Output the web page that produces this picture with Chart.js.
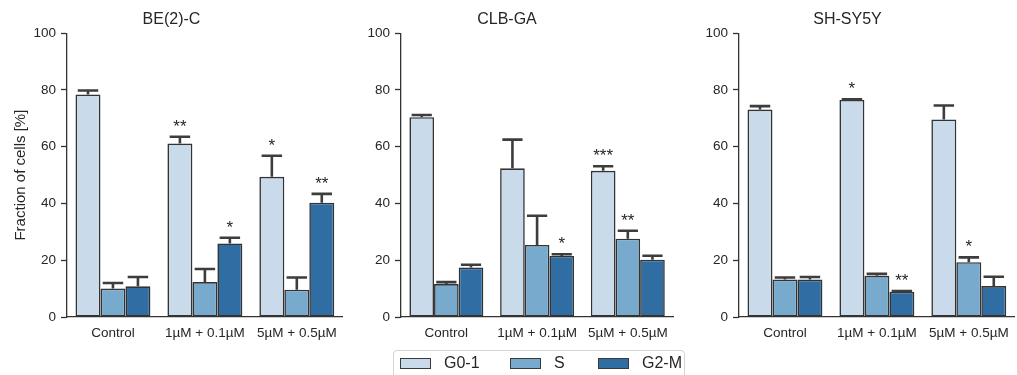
<!DOCTYPE html>
<html>
<head>
<meta charset="utf-8">
<script src="https://cdn.jsdelivr.net/npm/chart.js@4.4.1/dist/chart.umd.min.js"></script>
<style>
  body { margin: 0; background: #fff; font-family: "Liberation Sans", Arial, sans-serif; }
  #fig { position: relative; width: 1017px; height: 375px; overflow: hidden; }
  #fig canvas { position: absolute; top: 0; }
  #legend { position: absolute; left: 393px; top: 350px; width: 292px; height: 40px;
            border: 1px solid #d4d4d4; border-radius: 4px; box-sizing: border-box; color: #262626; font-size: 16px; }
  .item { position: absolute; top: 2px; height: 20px; line-height: 20px; }
  .swatch { position: absolute; top: 5px; width: 29px; height: 9px; border: 1px solid #3a3a3a; }
  .label { position: absolute; left: 44px; white-space: nowrap; }
</style>
</head>
<body>
<div id="fig">
  <canvas id="c1" width="345" height="375" style="left:0px"></canvas>
  <canvas id="c2" width="336" height="375" style="left:340px"></canvas>
  <canvas id="c3" width="337" height="375" style="left:680px"></canvas>
  <div id="legend"></div>
</div>
<script>
const categories = ["Control", "1µM + 0.1µM", "5µM + 0.5µM"];
const phases = ["G0-1", "S", "G2-M"];
const phaseColors = ["#c9dbea", "#77aacd", "#2f6da3"];
const yTicks = [0, 20, 40, 60, 80, 100];

// BE(2)-C
const be2cMean = [[78.4, 61.1, 49.4], [10.0, 12.3, 9.6], [10.8, 25.9, 40.3]];
const be2cErr  = [[1.4, 2.4, 7.4], [2.0, 4.6, 4.3], [3.3, 2.0, 3.1]];
const be2cSig  = [["", "**", "*"], ["", "", ""], ["", "*", "**"]];

// CLB-GA
const clbMean = [[70.4, 52.4, 51.5], [11.6, 25.4, 27.6], [17.4, 21.5, 20.2]];
const clbErr  = [[0.8, 10.1, 1.6], [0.7, 10.3, 2.8], [1.0, 0.6, 1.4]];
const clbSig  = [["", "", "***"], ["", "", "**"], ["", "*", ""]];

// SH-SY5Y
const shMean = [[73.1, 76.5, 69.6], [13.2, 14.5, 19.3], [13.2, 8.9, 10.9]];
const shErr  = [[1.2, 0.2, 4.9], [0.7, 0.7, 1.7], [0.9, 0.2, 3.3]];
const shSig  = [["", "*", ""], ["", "", "*"], ["", "**", ""]];

const ink = "#262626";
const axisInk = "#333333";
const fontFamily = '"Liberation Sans", Arial, sans-serif';

// error bars (upper only) + significance stars
const errorBars = {
    id: 'errorBars',
    afterDatasetsDraw(chart) {
        const ctx = chart.ctx;
        const y = chart.scales.y;
        chart.data.datasets.forEach((ds, i) => {
            const meta = chart.getDatasetMeta(i);
            meta.data.forEach((bar, j) => {
                const top = y.getPixelForValue(ds.data[j] + ds.errors[j]);
                const half = bar.width * 0.41;
                ctx.save();
                ctx.strokeStyle = "#3d3d3d";
                ctx.lineWidth = 2.6;
                ctx.beginPath();
                ctx.moveTo(bar.x, bar.y);
                ctx.lineTo(bar.x, top);
                ctx.moveTo(bar.x - half, top);
                ctx.lineTo(bar.x + half, top);
                ctx.stroke();
                if (ds.stars[j]) {
                    ctx.fillStyle = ink;
                    ctx.font = "17px " + fontFamily;
                    ctx.textAlign = "center";
                    ctx.textBaseline = "alphabetic";
                    ctx.fillText(ds.stars[j], bar.x, top - 5);
                }
                ctx.restore();
            });
        });
    }
};

function createPanel(id, title, means, errs, sigs, axisWidth, showYTitle) {
    const datasets = phases.map((p, k) => ({
        label: p,
        data: means[k],
        errors: errs[k],
        stars: sigs[k],
        backgroundColor: phaseColors[k],
        borderColor: "#333333",
        borderWidth: 1.6,
        borderSkipped: false,
        categoryPercentage: 0.815,
        barPercentage: 1.0
    }));

    return new Chart(document.getElementById(id), {
        type: 'bar',
        data: { labels: categories, datasets: datasets },
        plugins: [errorBars],
        options: {
            responsive: false,
            animation: false,
            layout: { padding: { top: 0, right: 2, bottom: 0, left: 0 } },
            plugins: {
                legend: { display: false },
                tooltip: { enabled: false },
                title: {
                    display: true,
                    text: title,
                    color: ink,
                    font: { family: fontFamily, size: 16, weight: 'normal' },
                    padding: { top: 10, bottom: 4 }
                }
            },
            scales: {
                x: {
                    grid: { display: false, drawTicks: false },
                    border: { display: true, color: axisInk, width: 1.3 },
                    ticks: { color: ink, font: { family: fontFamily, size: 13.5 }, padding: 8, maxRotation: 0 },
                    afterFit: (s) => { s.height = 58; }
                },
                y: {
                    min: 0,
                    max: 100,
                    afterBuildTicks: (s) => { s.ticks = yTicks.map(v => ({ value: v })); },
                    grid: { drawOnChartArea: false, drawTicks: true, tickLength: 6, tickColor: axisInk, tickWidth: 1.3 },
                    border: { display: true, color: axisInk, width: 1.3 },
                    ticks: { color: ink, font: { family: fontFamily, size: 13.5 }, padding: 5 },
                    title: {
                        display: showYTitle,
                        text: "Fraction of cells [%]",
                        color: ink,
                        font: { family: fontFamily, size: 15 },
                        padding: { top: 12, bottom: 0 }
                    },
                    afterFit: (s) => { s.width = axisWidth; }
                }
            }
        }
    });
}

createPanel("c1", "BE(2)-C", be2cMean, be2cErr, be2cSig, 67, true);
createPanel("c2", "CLB-GA", clbMean, clbErr, clbSig, 61, false);
createPanel("c3", "SH-SY5Y", shMean, shErr, shSig, 59, false);

// shared legend
const legend = document.getElementById("legend");
const legendX = [6, 116, 204];
phases.forEach((p, k) => {
    const item = document.createElement("div");
    item.className = "item";
    item.style.left = legendX[k] + "px";
    item.innerHTML = '<div class="swatch" style="background:' + phaseColors[k] + '"></div><div class="label">' + p + '</div>';
    legend.appendChild(item);
});
</script>
</body>
</html>
